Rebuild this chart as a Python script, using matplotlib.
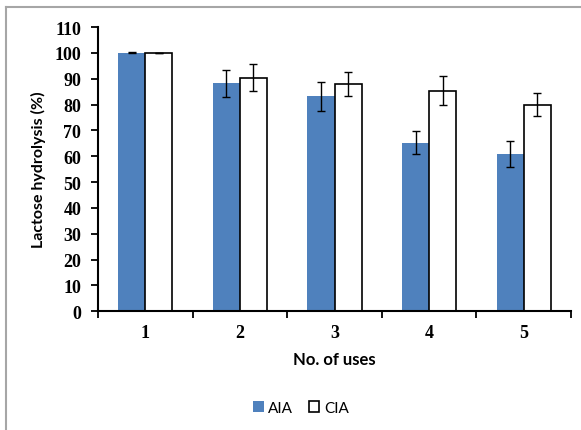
import matplotlib
matplotlib.use("Agg")
import matplotlib.pyplot as plt
import numpy as np
from matplotlib.lines import Line2D

categories = ["1", "2", "3", "4", "5"]
aia = [100.0, 88.3, 83.2, 65.2, 60.7]
aia_err = [0.2, 5.2, 5.6, 4.4, 5.0]
cia = [100.0, 90.4, 88.0, 85.4, 80.0]
cia_err = [0.0, 5.2, 4.6, 5.6, 4.5]
yticks = list(range(0, 111, 10))

fig = plt.figure(figsize=(5.81, 4.31), dpi=100)
ax = fig.add_axes([98/581, 1-312.3/431, (571-98)/581, (312.3-28)/431])

x = np.arange(len(categories))
w = 0.286
ax.bar(x - w/2, aia, w, color="#4F81BD", edgecolor="none", label="AIA", zorder=2)
ax.bar(x + w/2, cia, w, color="white", edgecolor="black", linewidth=1.2, label="CIA", zorder=2)
ax.errorbar(x - w/2, aia, yerr=aia_err, fmt="none", ecolor="black", elinewidth=1.0, capsize=3, capthick=1.0, zorder=3)
ax.errorbar(x + w/2, cia, yerr=cia_err, fmt="none", ecolor="black", elinewidth=1.0, capsize=3, capthick=1.0, zorder=3)

ax.set_xlim(-0.5, len(categories) - 0.5)
ax.set_ylim(0, 110)
ax.set_yticks(yticks)
ax.set_yticklabels([str(t) for t in yticks], fontfamily="Liberation Serif", fontweight="bold", fontsize=13)
ax.set_xticks(np.arange(-0.5, len(categories), 1.0))
ax.set_xticklabels([])
ax.set_xticks(x, minor=True)
ax.set_xticklabels(categories, minor=True, fontfamily="Liberation Serif", fontweight="bold", fontsize=13)
ax.tick_params(axis="x", which="major", length=5, width=1.3, direction="out")
ax.tick_params(axis="x", which="minor", length=0, pad=9)
ax.tick_params(axis="y", which="major", length=5, width=1.3, direction="out", pad=7)

for s in ["top", "right"]:
    ax.spines[s].set_visible(False)
for s in ["left", "bottom"]:
    ax.spines[s].set_linewidth(1.5)
    ax.spines[s].set_color("black")

ax.set_ylabel("Lactose hydrolysis (%)", fontfamily="Lato", fontweight="bold", fontsize=11.5, labelpad=6)
ax.set_xlabel("No. of uses", fontfamily="Lato", fontweight="bold", fontsize=12, labelpad=7)

leg = fig.legend(loc="center", bbox_to_anchor=(301/581, 1-409/431), ncol=2, frameon=False,
                 prop={"family": "Lato", "size": 11}, handlelength=0.7, handleheight=0.7,
                 handletextpad=0.3, columnspacing=1.0)

# chart area border (left and top visible)
fig.add_artist(Line2D([6/581, 6/581], [0, 1-8/431], color="#A6A6A6", linewidth=1.5, transform=fig.transFigure))
fig.add_artist(Line2D([6/581, 1], [1-8/431, 1-8/431], color="#A6A6A6", linewidth=1.5, transform=fig.transFigure))

fig.savefig("out.png", dpi=100)
